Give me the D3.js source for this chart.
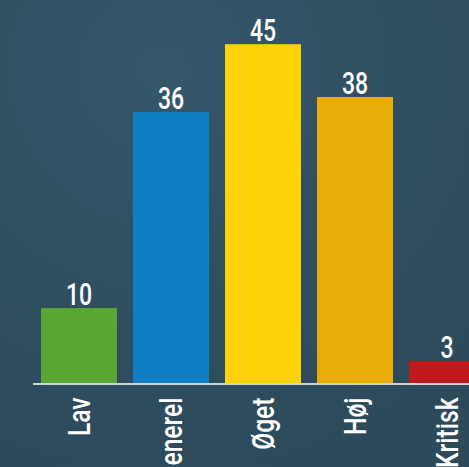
<!DOCTYPE html>
<html><head><meta charset="utf-8">
<script src="https://cdn.jsdelivr.net/npm/d3@7"></script>
<style>html,body{margin:0;padding:0;overflow:hidden;background:#2e4d5e;}</style>
</head><body>
<svg id="c" width="469" height="467"></svg>
<script>
const categories = ["Lav", "Generel", "Øget", "Høj", "Kritisk"];
const values = [10, 36, 45, 38, 3];
const colors = ["#58a733", "#0f7ec2", "#fdd209", "#e8ae07", "#c0191b"];

const W = 469, H = 467;
const svg = d3.select("#c");
const defs = svg.append("defs");
const g1 = defs.append("radialGradient").attr("id", "bg").attr("cx", "0.35").attr("cy", "0.15").attr("r", "0.9");
g1.append("stop").attr("offset", "0").attr("stop-color", "#35576a");
g1.append("stop").attr("offset", "0.6").attr("stop-color", "#2f4e60");
g1.append("stop").attr("offset", "1").attr("stop-color", "#2c4a5a");
svg.append("rect").attr("width", W).attr("height", H).attr("fill", "url(#bg)");

const x = d3.scaleBand().domain(categories).range([33, 493]).paddingInner(0.174).paddingOuter(0.087);
const y = d3.scaleLinear().domain([0, 50]).range([383.5, 6.5]);
const font = "Roboto, 'DejaVu Sans', sans-serif";
const sx = 0.72, sxl = 0.77;

svg.selectAll("rect.bar").data(values).join("rect").attr("class", "bar")
  .attr("x", (d, i) => x(categories[i])).attr("width", x.bandwidth())
  .attr("y", d => y(d)).attr("height", d => y(0) - y(d))
  .attr("fill", (d, i) => colors[i]);

svg.selectAll("text.val").data(values).join("text").attr("class", "val")
  .attr("transform", (d, i) => `translate(${x(categories[i]) + x.bandwidth() / 2},${y(d) - 3}) scale(${sx},1)`)
  .attr("text-anchor", "middle").attr("fill", "#fff")
  .style("font-family", font).style("font-size", "32px").style("font-weight", "500")
  .text(d => d);

const ax = svg.append("g").attr("transform", `translate(0,${y(0)})`)
  .call(d3.axisBottom(x).tickSize(0).tickPadding(0));
ax.select(".domain").attr("d", "M33,0.5H469").attr("stroke", "#cfd3d6").attr("stroke-width", 2);
ax.selectAll(".tick text")
  .attr("transform", `rotate(-90) translate(-14,0) scale(${sxl},1)`)
  .attr("x", 0).attr("y", 0).attr("dy", "0.35em")
  .attr("text-anchor", "end").attr("fill", "#fff")
  .style("font-family", font).style("font-size", "32px").style("font-weight", "500");
</script>
</body></html>
